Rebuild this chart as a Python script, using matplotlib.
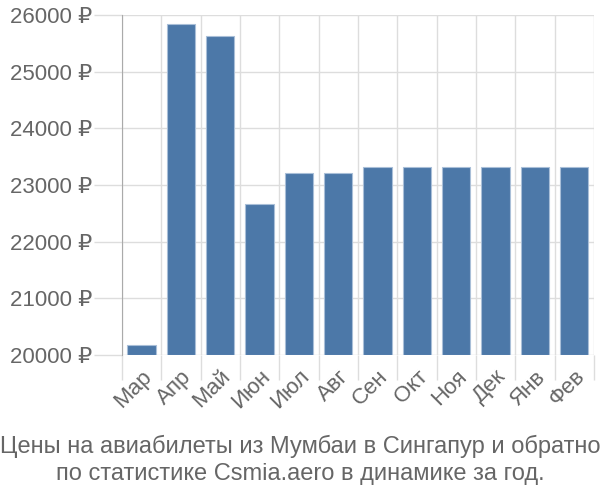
import numpy as np
import matplotlib
matplotlib.use('Agg')
import matplotlib.pyplot as plt

# Данные
months = ['Мар', 'Апр', 'Май', 'Июн', 'Июл', 'Авг', 'Сен', 'Окт', 'Ноя', 'Дек', 'Янв', 'Фев']
prices = [20170, 25845, 25625, 22660, 23215, 23215, 23310, 23310, 23310, 23310, 23310, 23310]
yticks = [20000, 21000, 22000, 23000, 24000, 25000, 26000]
title = 'Цены на авиабилеты из Мумбаи в Сингапур и обратно\nпо статистике Csmia.aero в динамике за год.'

plt.rcParams['font.family'] = ['Liberation Sans', 'DejaVu Sans']

fig = plt.figure(figsize=(6, 5), dpi=100)
ax = fig.add_axes([0.203, 0.29, 0.787, 0.68])

x = np.arange(len(months))
base = yticks[0]
ax.bar(x, [p - base for p in prices], bottom=base, width=0.72,
       color='#4c78a8', edgecolor='#a9bfd8', linewidth=0.8, zorder=3)

ax.set_xlim(-0.5, len(months) - 0.5)
ax.set_ylim(yticks[0], yticks[-1])
ax.set_yticks(yticks)
ax.set_yticklabels([f'{v} ₽' for v in yticks])

# вертикальные линии сетки между столбцами
ax.set_xticks(x)
ax.set_xticklabels(months, rotation=45, ha='right', rotation_mode='anchor')
ax.set_xticks(np.arange(-0.5, len(months)), minor=True)

ax.grid(True, axis='y', color='#dddddd', linewidth=1, zorder=0)
ax.grid(True, axis='x', which='minor', color='#dddddd', linewidth=1, zorder=0)
ax.set_axisbelow(True)

ax.tick_params(axis='y', length=20, color='#dddddd', width=1, labelsize=16,
               labelcolor='#666666', pad=1)
ax.tick_params(axis='x', which='major', length=0, labelsize=16,
               labelcolor='#666666', pad=8)
ax.tick_params(axis='x', which='minor', length=18, color='#dddddd', width=1)
ax.xaxis.get_minor_ticks()[0].tick1line.set_color('#aaaaaa')

for s in ['top', 'right', 'bottom']:
    ax.spines[s].set_visible(False)
ax.spines['left'].set_color('#aaaaaa')

fig.text(0.5, 0.03, title, ha='center', va='bottom', fontsize=17,
         color='#666666', linespacing=1.3)

fig.savefig('out.png', dpi=100)
